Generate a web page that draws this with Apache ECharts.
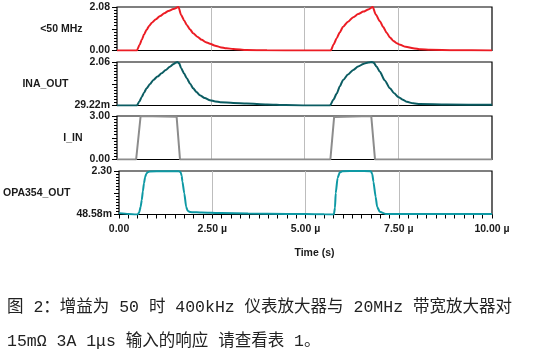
<!DOCTYPE html>
<html>
<head>
<meta charset="utf-8">
<script src="https://cdn.jsdelivr.net/npm/echarts@6/dist/echarts.min.js"></script>
<style>html,body{margin:0;padding:0;background:#fff}#c{width:550px;height:356px}</style>
</head>
<body>
<div id="c"></div>
<script>
// ---- data (time in µs) ----
const seriesNames = ['<50 MHz', 'INA_OUT', 'I_IN', 'OPA354_OUT'];
const yMin = [0, 0.02922, 0, 0.04858];
const yMax = [2.08, 2.06, 3.00, 2.30];
const yTickLabels = [['0.00', '2.08'], ['29.22m', '2.06'], ['0.00', '3.00'], ['48.58m', '2.30']];
const xTickValues = [0, 2.5, 5, 7.5, 10];
const xTickLabels = ['0.00', '2.50 µ', '5.00 µ', '7.50 µ', '10.00 µ'];

const lowpassT = [0, 0.53, 0.60, 0.66, 0.72, 0.79, 0.86, 0.93, 1.04, 1.15, 1.26, 1.37, 1.50, 1.64, 1.71, 1.79, 1.86, 1.95, 2.03, 2.14, 2.26, 2.37, 2.48, 2.62, 2.75, 2.92, 3.10, 3.46, 4.00, 5.00, 5.70,
  5.78, 5.86, 5.94, 6.03, 6.16, 6.30, 6.43, 6.57, 6.70, 6.82, 6.90, 7.01, 7.10, 7.19, 7.28, 7.37, 7.46, 7.55, 7.70, 7.90, 8.10, 8.35, 9.00, 10.00];
const lowpassV = [0, 0, 0.26, 0.51, 0.76, 0.99, 1.18, 1.33, 1.50, 1.65, 1.78, 1.89, 1.98, 2.08, 1.70, 1.44, 1.22, 1.00, 0.83, 0.66, 0.51, 0.40, 0.32, 0.23, 0.16, 0.11, 0.07, 0.02, 0.01, 0.0, 0.0,
  0.30, 0.59, 0.87, 1.14, 1.38, 1.59, 1.74, 1.86, 1.96, 2.08, 1.72, 1.40, 1.12, 0.85, 0.62, 0.46, 0.35, 0.27, 0.18, 0.11, 0.06, 0.03, 0.01, 0.0];

const inaT = [0, 0.53, 0.60, 0.66, 0.72, 0.79, 0.88, 0.97, 1.08, 1.19, 1.30, 1.41, 1.50, 1.56, 1.61, 1.66, 1.71, 1.79, 1.86, 1.95, 2.03, 2.12, 2.21, 2.34, 2.48, 2.62, 2.75, 3.10, 3.46, 4.00, 4.50, 5.00, 5.68,
  5.77, 5.86, 5.94, 6.03, 6.16, 6.30, 6.43, 6.57, 6.70, 6.80, 6.85, 6.92, 7.01, 7.14, 7.28, 7.39, 7.50, 7.62, 7.73, 7.90, 8.08, 8.79, 9.95, 10.00];
const inaV = [0.03, 0.03, 0.23, 0.43, 0.63, 0.83, 1.03, 1.22, 1.38, 1.53, 1.69, 1.84, 1.95, 2.02, 2.06, 2.00, 1.77, 1.52, 1.30, 1.05, 0.83, 0.66, 0.51, 0.38, 0.28, 0.22, 0.18, 0.15, 0.12, 0.08, 0.05, 0.035, 0.03,
  0.30, 0.59, 0.92, 1.22, 1.48, 1.69, 1.85, 1.97, 2.04, 2.06, 2.02, 1.85, 1.60, 1.20, 0.83, 0.60, 0.43, 0.30, 0.20, 0.13, 0.10, 0.08, 0.06, 0.06];

const iinT = [0, 0.51, 0.63, 1.59, 1.68, 5.69, 5.79, 6.78, 6.88, 10];
const iinV = [0, 0, 3.00, 2.95, 0, 0, 2.93, 3.00, 0, 0];

const opaT = [0, 0.25, 0.45, 0.50, 0.54, 0.58, 0.61, 0.64, 0.67, 0.70, 0.73, 0.77, 0.82, 1.20, 1.60, 1.65, 1.68, 1.70, 1.75, 1.80, 1.84, 1.90, 1.95, 2.21, 2.75, 3.46, 4.50, 5.00, 5.50, 5.76,
  5.79, 5.81, 5.86, 5.92, 5.99, 6.40, 6.75, 6.79, 6.82, 6.88, 6.92, 6.99, 7.15, 8.00, 10.00];
const opaV = [0.12, 0.08, 0.05, 0.05, 0.15, 0.45, 0.80, 1.25, 1.67, 1.98, 2.15, 2.24, 2.28, 2.29, 2.29, 2.25, 2.05, 1.76, 1.15, 0.45, 0.24, 0.18, 0.17, 0.15, 0.12, 0.10, 0.08, 0.07, 0.06, 0.05,
  0.40, 1.15, 1.94, 2.23, 2.29, 2.30, 2.29, 2.15, 1.76, 0.97, 0.45, 0.19, 0.08, 0.07, 0.07];

const caption = '图 2：增益为 50 时 400kHz 仪表放大器与 20MHz 带宽放大器对\n15mΩ 3A 1μs 输入的响应 请查看表 1。';

// ---- chart ----
const pairs = (t, v) => t.map((x, i) => [x, v[i]]);
const seriesData = [pairs(lowpassT, lowpassV), pairs(inaT, inaV), pairs(iinT, iinV), pairs(opaT, opaV)];
const colors = ['#ec1c24', '#0b5c62', '#8c8c8c', '#0e99a4'];
const smoothing = [0.25, 0.25, false, 0.2];
const labelFont = { fontFamily: 'Liberation Sans, Arial, sans-serif', fontWeight: 'bold', fontSize: 10.5, color: '#1a1a1a' };

const grids = [], xAxes = [], yAxes = [], series = [];
const tops = [7, 62, 116, 171];
for (let i = 0; i < 4; i++) {
  grids.push({ left: 117, right: 58, top: tops[i], height: 43.5, show: true, borderColor: '#000', borderWidth: 1.2, backgroundColor: 'transparent' });
  const last = i === 3;
  xAxes.push({
    gridIndex: i, type: 'value', min: 0, max: 10, interval: 2.5,
    axisLine: { show: false },
    splitLine: { show: true, showMinLine: false, showMaxLine: false, lineStyle: { color: '#bdbdbd', width: 1 } },
    axisTick: { show: last, length: 4, lineStyle: { color: '#000', width: 1 } },
    minorTick: { show: last, splitNumber: 10, length: 4, lineStyle: { color: '#000', width: 1 } },
    axisLabel: { show: last, margin: 9, ...labelFont,
      formatter: v => { const k = xTickValues.indexOf(v); return k >= 0 ? xTickLabels[k] : ''; } },
    name: last ? 'Time (s)' : '', nameLocation: 'middle', nameGap: 33,
    nameTextStyle: { ...labelFont, padding: [0, 0, 0, 18] }
  });
  const mn = yMin[i], mx = yMax[i];
  const minor = [];
  for (let k = 0; k <= 14; k++) minor.push(mn + (mx - mn) * k / 14);
  yAxes.push({
    gridIndex: i, type: 'value', min: mn, max: mx, position: 'left',
    name: seriesNames[i], nameLocation: 'middle', nameRotate: 0, nameGap: 34.5,
    nameTextStyle: { ...labelFont, align: 'right', verticalAlign: 'middle', padding: [0, 0, 7, 0] },
    axisLine: { show: false }, splitLine: { show: false },
    axisTick: { show: true, length: 3, customValues: minor, lineStyle: { color: '#000', width: 1 } },
    axisLabel: { show: true, margin: 7, customValues: [mn, mx], ...labelFont,
      formatter: v => (v === mn ? yTickLabels[i][0] : yTickLabels[i][1]) }
  });
  yAxes.push({
    gridIndex: i, type: 'value', min: mn, max: mx, position: 'left',
    axisLine: { show: false }, splitLine: { show: false }, axisLabel: { show: false },
    axisTick: { show: true, length: 5, customValues: [mn, (mn + mx) / 2, mx], lineStyle: { color: '#000', width: 1 } }
  });
  series.push({
    type: 'line', xAxisIndex: i, yAxisIndex: 2 * i, data: seriesData[i],
    showSymbol: false, smooth: smoothing[i], smoothMonotone: 'x',
    lineStyle: { color: colors[i], width: 2 }, itemStyle: { color: colors[i] },
    animation: false, clip: true
  });
}

const chart = echarts.init(document.getElementById('c'), null, { renderer: 'canvas' });
chart.setOption({
  animation: false,
  backgroundColor: '#fff',
  title: { text: caption, left: 7, top: 291, padding: 0,
    textStyle: { fontFamily: "'Liberation Mono', 'Noto Sans CJK SC', monospace", fontSize: 16.5, fontWeight: 'normal', color: '#222', lineHeight: 34 } },
  grid: grids, xAxis: xAxes, yAxis: yAxes, series: series
});
</script>
</body>
</html>
